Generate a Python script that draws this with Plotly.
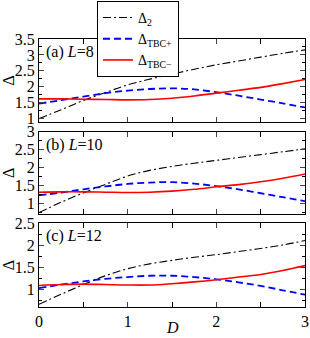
import plotly.graph_objects as go
from plotly.subplots import make_subplots

D = [0, 0.25, 0.5, 0.75, 1, 1.25, 1.5, 1.75, 2, 2.25, 2.5, 2.75, 3]

# panel (a) L=8
a_delta2 = [1.00, 1.28, 1.57, 1.82, 2.06, 2.24, 2.40, 2.55, 2.69, 2.81, 2.93, 3.05, 3.16]
a_tbcp = [1.47, 1.58, 1.69, 1.80, 1.88, 1.93, 1.95, 1.92, 1.83, 1.72, 1.60, 1.48, 1.35]
a_tbcm = [1.62, 1.62, 1.61, 1.60, 1.59, 1.60, 1.64, 1.71, 1.80, 1.89, 1.98, 2.10, 2.23]
# panel (b) L=10
b_delta2 = [0.74, 1.03, 1.29, 1.53, 1.76, 1.92, 2.03, 2.12, 2.20, 2.28, 2.36, 2.44, 2.52]
b_tbcp = [1.22, 1.30, 1.39, 1.47, 1.54, 1.58, 1.59, 1.55, 1.48, 1.39, 1.28, 1.17, 1.06]
b_tbcm = [1.31, 1.32, 1.32, 1.31, 1.30, 1.31, 1.34, 1.39, 1.46, 1.52, 1.60, 1.70, 1.82]
# panel (c) L=12
c_delta2 = [0.66, 0.89, 1.11, 1.31, 1.47, 1.58, 1.66, 1.73, 1.79, 1.86, 1.93, 2.01, 2.11]
c_tbcp = [1.03, 1.11, 1.18, 1.24, 1.28, 1.31, 1.31, 1.28, 1.23, 1.16, 1.08, 0.98, 0.88]
c_tbcm = [1.09, 1.11, 1.12, 1.11, 1.10, 1.10, 1.13, 1.17, 1.22, 1.28, 1.34, 1.43, 1.54]

panels = [
    ("(a) <i>L</i>=8", a_delta2, a_tbcp, a_tbcm, [0.9, 3.5]),
    ("(b) <i>L</i>=10", b_delta2, b_tbcp, b_tbcm, [0.7, 3.0]),
    ("(c) <i>L</i>=12", c_delta2, c_tbcp, c_tbcm, [0.6, 2.5]),
]
names = ["Δ<sub>2</sub>", "Δ<sub>TBC+</sub>", "Δ<sub>TBC−</sub>"]

FONT = "Liberation Serif, Times New Roman, Times, serif"
fig = make_subplots(rows=3, cols=1, shared_xaxes=False, vertical_spacing=0.035)

domains = [[0.691, 1.0], [0.347, 0.654], [0.0, 0.312]]

for i, (lab, d2, tp, tm, yr) in enumerate(panels):
    row = i + 1
    show = (i == 0)
    fig.add_trace(go.Scatter(x=D, y=d2, mode="lines", name=names[0], showlegend=show,
                             line=dict(color="black", width=1.1, dash="8px,3px,2px,3px", shape="spline")),
                  row=row, col=1)
    fig.add_trace(go.Scatter(x=D, y=tp, mode="lines", name=names[1], showlegend=show,
                             line=dict(color="#0000ff", width=1.8, dash="7px,4px", shape="spline")),
                  row=row, col=1)
    fig.add_trace(go.Scatter(x=D, y=tm, mode="lines", name=names[2], showlegend=show,
                             line=dict(color="#ff0000", width=1.6, shape="spline")),
                  row=row, col=1)
    fig.update_xaxes(range=[0, 3], dtick=1, tick0=0, ticks="inside", ticklen=5, tickwidth=1,
                     showline=True, linecolor="black", linewidth=1, mirror="ticks",
                     showgrid=False, zeroline=False, showticklabels=(i == 2),
                     ticklabeloverflow="allow",
                     tickfont=dict(family=FONT, size=16, color="black"),
                     minor=dict(dtick=0.5, tick0=0, ticks="inside", ticklen=5, tickcolor="black", showgrid=False),
                     row=row, col=1)
    fig.update_yaxes(range=yr, dtick=0.5, tick0=0, ticks="inside", ticklen=5, tickwidth=1,
                     showline=True, linecolor="black", linewidth=1, mirror="ticks",
                     showgrid=False, zeroline=False, domain=domains[i],
                     tickfont=dict(family=FONT, size=16, color="black"),
                     title=dict(text="Δ", font=dict(family=FONT, size=16, color="black"), standoff=4),
                     minor=dict(dtick=0.25, tick0=0, ticks="inside", ticklen=3, tickcolor="black", showgrid=False),
                     row=row, col=1)
    xref = "x domain" if i == 0 else f"x{row} domain"
    yref = "y domain" if i == 0 else f"y{row} domain"
    fig.add_annotation(text=lab, xref=xref, yref=yref, x=0.02, y=1.0, xanchor="left", yanchor="top",
                       yshift=-2, showarrow=False, font=dict(family=FONT, size=16, color="black"))

# x-axis title
fig.add_annotation(text="<i>D</i>", xref="paper", yref="paper", x=0.5, y=-0.078,
                   xanchor="center", yanchor="middle", showarrow=False,
                   font=dict(family=FONT, size=16, color="black"))

fig.update_layout(
    width=310, height=338,
    margin=dict(l=39, r=5, t=39, b=31, autoexpand=False),
    paper_bgcolor="white", plot_bgcolor="white",
    font=dict(family=FONT, size=16, color="black"),
    legend=dict(x=0.218, y=1.142, xanchor="left", yanchor="top",
                bgcolor="white", bordercolor="black", borderwidth=1,
                font=dict(family=FONT, size=14, color="black"),
                tracegroupgap=0, itemwidth=30),
)

fig.write_html("out.html", config={"displayModeBar": False},
               post_script="document.body.style.margin='0';document.body.style.padding='0';")
